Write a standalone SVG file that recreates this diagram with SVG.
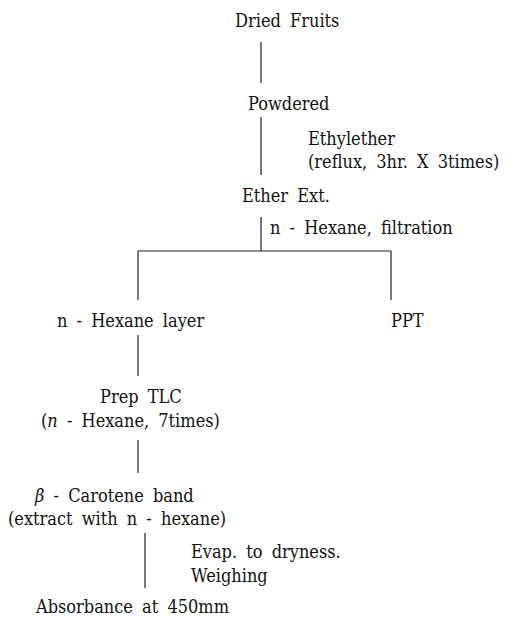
<svg xmlns="http://www.w3.org/2000/svg" width="521" height="617" viewBox="0 0 521 617">
<style>
text{font-family:'DejaVu Serif Condensed','DejaVu Serif',serif;font-stretch:condensed;font-size:18px;word-spacing:4px;fill:#111}
.c line{stroke:#222;stroke-width:1.2;fill:none}
</style>
<rect width="521" height="617" fill="#fff"/>
<g class="c" id="connectors">
<line x1="261" y1="42" x2="261" y2="83"/>
<line x1="261" y1="117" x2="261" y2="175"/>
<line x1="261" y1="217" x2="261" y2="251"/>
<line x1="138" y1="251" x2="391" y2="251"/>
<line x1="138" y1="251" x2="138" y2="300"/>
<line x1="391" y1="251" x2="391" y2="300"/>
<line x1="138" y1="335" x2="138" y2="376"/>
<line x1="138" y1="440" x2="138" y2="473"/>
<line x1="145" y1="533" x2="145" y2="588"/>
</g>
<g id="dried"><text x="235" y="26.5" word-spacing="9">Dried Fruits</text></g>
<g id="powdered"><text x="248" y="110">Powdered</text></g>
<g id="ethylether-label">
<text x="308" y="145">Ethylether</text>
<text x="308" y="168" word-spacing="10">(reflux, 3hr. X 3times)</text>
</g>
<g id="ether-ext"><text x="242" y="202" word-spacing="0">Ether Ext.</text></g>
<g id="hexane-filtration"><text x="270" y="234" word-spacing="0">n - Hexane, filtration</text></g>
<g id="hexane-layer"><text x="57" y="327">n - Hexane layer</text></g>
<g id="ppt"><text x="391" y="327">PPT</text></g>
<g id="prep-tlc">
<text x="100" y="403" word-spacing="11">Prep TLC</text>
<text x="41" y="427">(<tspan font-style="italic">n</tspan> - Hexane, 7times)</text>
</g>
<g id="carotene">
<text x="35" y="502" word-spacing="7"><tspan font-style="italic">β</tspan> - Carotene band</text>
<text x="8" y="525" word-spacing="6">(extract with n - hexane)</text>
</g>
<g id="evap-label">
<text x="191" y="558" word-spacing="7.5">Evap. to dryness.</text>
<text x="191" y="582">Weighing</text>
</g>
<g id="absorbance"><text x="36" y="613" word-spacing="12">Absorbance at 450mm</text></g>
</svg>
